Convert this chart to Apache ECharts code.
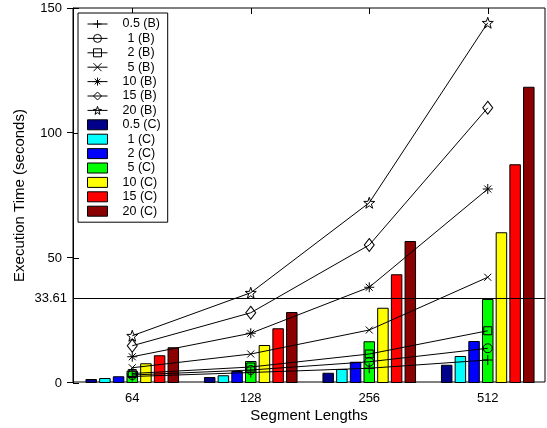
<!DOCTYPE html>
<html><head><meta charset="utf-8">
<script src="https://cdn.jsdelivr.net/npm/echarts@6/dist/echarts.min.js"></script>
<style>html,body{margin:0;padding:0;background:#fff}#c{width:547px;height:428px}</style>
</head><body><div id="c"></div>
<script>
var categories = ['64', '128', '256', '512'];
var threshold = 33.61;
var b05 = [2.6, 4.2, 5.9, 9.2];
var b1  = [3.2, 5.2, 8.5, 13.9];
var b2  = [3.8, 6.4, 11.6, 20.9];
var b5  = [6.1, 11.6, 21.2, 42.3];
var b10 = [10.5, 19.9, 38.3, 77.6];
var b15 = [14.9, 28.1, 55.2, 110.1];
var b20 = [18.9, 36.1, 72.1, 144.1];
var c05 = [1.6, 2.4, 4.1, 7.3];
var c1  = [2.0, 3.1, 5.6, 10.8];
var c2  = [2.7, 4.8, 8.5, 16.8];
var c5  = [4.9, 8.8, 16.7, 33.61];
var c10 = [7.9, 15.2, 30.1, 60.3];
var c15 = [11.1, 21.9, 43.5, 87.5];
var c20 = [14.3, 28.4, 56.8, 118.5];

var FONT = 'Liberation Sans, Arial, sans-serif';
var STAR = 'path://M10,0L12.35,6.76L19.51,6.91L13.8,11.24L15.88,18.09L10,14L4.12,18.09L6.2,11.24L0.49,6.91L7.65,6.76Z';
var lineDefs = [
  {name: '0.5 (B)', data: b05, symbol: 'path://M0,5L10,5M5,0L5,10', size: 10},
  {name: '1 (B)', data: b1, symbol: 'circle', size: 9},
  {name: '2 (B)', data: b2, symbol: 'rect', size: 8},
  {name: '5 (B)', data: b5, symbol: 'path://M0,0L10,10M0,10L10,0', size: 7},
  {name: '10 (B)', data: b10, symbol: 'path://M0,5L10,5M5,0L5,10M1.5,1.5L8.5,8.5M1.5,8.5L8.5,1.5', size: 10},
  {name: '15 (B)', data: b15, symbol: 'diamond', size: [10, 13]},
  {name: '20 (B)', data: b20, symbol: STAR, size: 11}
];
var barDefs = [
  {name: '0.5 (C)', data: c05, color: '#00008b'},
  {name: '1 (C)', data: c1, color: '#00ffff'},
  {name: '2 (C)', data: c2, color: '#0000ff'},
  {name: '5 (C)', data: c5, color: '#00ff00'},
  {name: '10 (C)', data: c10, color: '#ffff00'},
  {name: '15 (C)', data: c15, color: '#ff0000'},
  {name: '20 (C)', data: c20, color: '#8b0000'}
];

var series = [];
barDefs.forEach(function (d) {
  series.push({
    type: 'bar', name: d.name, data: d.data, xAxisIndex: 0, yAxisIndex: 0,
    barWidth: 11.5, barGap: '19%', z: 2,
    itemStyle: {color: d.color, borderColor: '#000', borderWidth: 1}
  });
});
lineDefs.forEach(function (d) {
  series.push({
    type: 'line', name: d.name, data: d.data, xAxisIndex: 0, yAxisIndex: 0,
    symbol: d.symbol, symbolSize: d.size, showAllSymbol: true, z: 5,
    lineStyle: {color: '#000', width: 1},
    itemStyle: {color: 'none', borderColor: '#000', borderWidth: 1},
    emphasis: {disabled: true}
  });
});
series.push({
  type: 'line', name: 'threshold', data: [], xAxisIndex: 1, yAxisIndex: 2, z: 4,
  markLine: {
    silent: true, symbol: 'none', animation: false,
    lineStyle: {color: '#000', width: 1, type: 'solid'},
    label: {show: true, position: 'start', distance: 6, formatter: String(threshold), color: '#000', fontSize: 13, fontFamily: FONT},
    data: [{yAxis: threshold}]
  }
});

var legendData = lineDefs.map(function (d) {
  return {name: d.name,
    itemStyle: {color: 'none', borderColor: '#000', borderWidth: 1},
    lineStyle: {color: '#000', width: 1}};
}).concat(barDefs.map(function (d) {
  return {name: d.name, icon: 'rect',
    itemStyle: {color: d.color, borderColor: '#000', borderWidth: 1}};
}));

var chart = echarts.init(document.getElementById('c'), null, {renderer: 'canvas'});
chart.setOption({
  animation: false,
  backgroundColor: '#fff',
  textStyle: {fontFamily: FONT},
  grid: [
    {left: 73, top: 8, width: 477, height: 375, show: false},
    {left: 73, top: 8, width: 472, height: 375, show: true, borderColor: '#000', borderWidth: 1, backgroundColor: 'transparent'}
  ],
  legend: {
    data: legendData, orient: 'vertical', left: 78, top: 13,
    padding: [4, 7, 4, 9], itemWidth: 20, itemHeight: 10, itemGap: 0.4,
    borderColor: '#000', borderWidth: 1, backgroundColor: '#fff',
    selectedMode: false,
    formatter: function (n) { return (/^\d \(/.test(n) ? '{b|}' : '{a|}') + n; },
    textStyle: {fontSize: 12.5, color: '#000', fontFamily: FONT, lineHeight: 14,
      rich: {a: {width: 10, lineHeight: 14}, b: {width: 15, lineHeight: 14}}},
    z: 10
  },
  xAxis: [
    {type: 'category', data: categories, gridIndex: 0, position: 'bottom',
      axisLine: {show: false},
      axisTick: {show: true, inside: true, alignWithLabel: true, length: 6, lineStyle: {color: '#000'}},
      axisLabel: {fontSize: 13, color: '#000', margin: 9, fontFamily: FONT},
      splitLine: {show: false}},
    {type: 'value', gridIndex: 1, min: 0, max: 1, position: 'bottom',
      axisLine: {show: false}, axisTick: {show: false}, axisLabel: {show: false}, splitLine: {show: false},
      name: 'Segment Lengths', nameLocation: 'middle', nameGap: 26,
      nameTextStyle: {fontSize: 15, color: '#000', fontFamily: FONT}},
    {type: 'category', data: categories, gridIndex: 0, position: 'top',
      axisLine: {show: false},
      axisTick: {show: true, inside: true, alignWithLabel: true, length: 6, lineStyle: {color: '#000'}},
      axisLabel: {show: false}, splitLine: {show: false}}
  ],
  yAxis: [
    {type: 'value', gridIndex: 0, min: 0, max: 150, interval: 50, position: 'left',
      axisLine: {show: true, lineStyle: {color: '#000'}},
      axisTick: {show: true, inside: true, length: 6, lineStyle: {color: '#000'}},
      axisLabel: {fontSize: 13, color: '#000', margin: 11, fontFamily: FONT},
      splitLine: {show: false},
      name: 'Execution Time (seconds)', nameLocation: 'middle', nameGap: 46, nameRotate: 90,
      nameTextStyle: {fontSize: 15, color: '#000', fontFamily: FONT}},
    {type: 'value', gridIndex: 1, min: 0, max: 150, interval: 50, position: 'right',
      axisLine: {show: false},
      axisTick: {show: true, inside: true, length: 6, lineStyle: {color: '#000'}},
      axisLabel: {show: false}, splitLine: {show: false}},
    {type: 'value', gridIndex: 1, min: 0, max: 150, interval: 50, position: 'left', show: false}
  ],
  series: series
});
</script></body></html>
